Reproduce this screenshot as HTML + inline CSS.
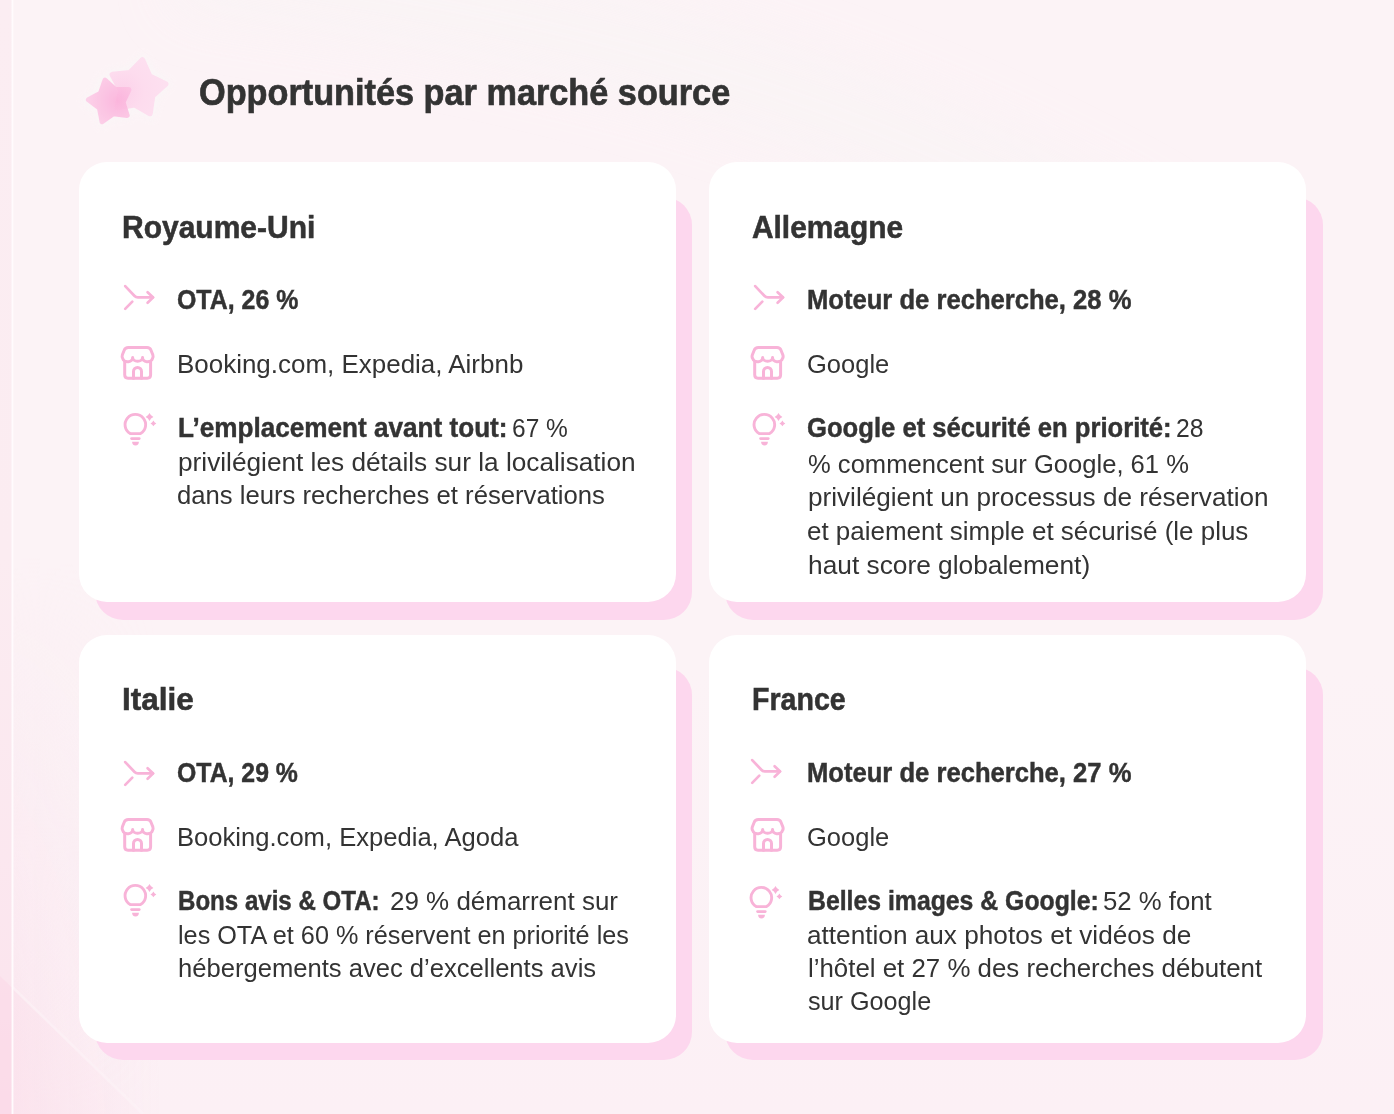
<!DOCTYPE html>
<html lang="fr">
<head>
<meta charset="utf-8">
<title>Opportunités par marché source</title>
<style>
html,body{margin:0;padding:0;}
body{width:1394px;height:1114px;position:relative;overflow:hidden;background:#fcf2f6;font-family:"Liberation Sans",sans-serif;color:#333333;}
.bg{position:absolute;left:0;top:0;width:1394px;height:1114px;}
.market{position:absolute;width:0;height:0;}
.market ul,.market li,.market p{margin:0;padding:0;list-style:none;}
.shadow{position:absolute;background:#fdd7ee;border-radius:28px;}
.card{position:absolute;left:0;top:0;background:#ffffff;border-radius:28px;}
.t{position:absolute;white-space:nowrap;transform-origin:0 50%;margin:0;padding:0;display:block;}
b.t{font-weight:bold;-webkit-text-stroke:0.45px #333333;}
h1.t{font-weight:bold;-webkit-text-stroke:0.7px #333333;}
h2.t{font-weight:bold;-webkit-text-stroke:0.55px #333333;}
svg.ic{position:absolute;overflow:visible;}
</style>
</head>
<body>
<svg class="bg" width="1394" height="1114" viewBox="0 0 1394 1114">
  <defs>
    <linearGradient id="gv" x1="0" y1="0" x2="0" y2="1">
      <stop offset="0" stop-color="#fcf3f6"/>
      <stop offset="0.6" stop-color="#fcf3f6"/>
      <stop offset="1" stop-color="#fcf0f5"/>
    </linearGradient>
    <linearGradient id="gs" x1="0" y1="0" x2="0" y2="1">
      <stop offset="0" stop-color="#fbedf2"/>
      <stop offset="0.5" stop-color="#fbecf1"/>
      <stop offset="0.88" stop-color="#fbe5ee"/>
      <stop offset="1" stop-color="#fbdeea"/>
    </linearGradient>
    <linearGradient id="gh" x1="0" y1="0" x2="1" y2="0">
      <stop offset="0" stop-color="#fadfeb" stop-opacity="0.6"/>
      <stop offset="0.7" stop-color="#fbe6ef" stop-opacity="0.2"/>
      <stop offset="1" stop-color="#fcecf2" stop-opacity="0"/>
    </linearGradient>
    <linearGradient id="gm" x1="0" y1="0" x2="0" y2="1">
      <stop offset="0.5" stop-color="#000"/>
      <stop offset="1" stop-color="#fff"/>
    </linearGradient>
    <mask id="mk" maskUnits="userSpaceOnUse" x="0" y="0" width="1394" height="1114"><rect x="0" y="0" width="1394" height="1114" fill="url(#gm)"/></mask>
    <linearGradient id="gd" x1="0" y1="0" x2="1" y2="0">
      <stop offset="0" stop-color="#fbe0eb" stop-opacity="0.6"/>
      <stop offset="1" stop-color="#fce9f1" stop-opacity="0.3"/>
    </linearGradient>
    <filter id="bl" x="-10%" y="-10%" width="120%" height="120%"><feGaussianBlur stdDeviation="28"/></filter>
  </defs>
  <rect x="0" y="0" width="1394" height="1114" fill="url(#gv)"/>
  <!-- very soft lighter arc across the top -->
  <path d="M180 -40 C 500 10, 800 60, 1150 260" fill="none" stroke="#f9f4f5" stroke-width="90" opacity="0.8" filter="url(#bl)"/>
  <!-- pink tint down the left side, stronger toward the bottom -->
  <rect x="13.4" y="0" width="150" height="1114" fill="url(#gh)" mask="url(#mk)"/>
  <!-- bottom-left diagonal facet -->
  <polygon points="0,976 142,1114 0,1114" fill="url(#gd)"/>
  <line x1="0" y1="975" x2="143" y2="1114" stroke="#fdf3f7" stroke-width="2.5" opacity="0.6"/>
  <!-- left strip -->
  <rect x="0" y="0" width="11.6" height="1114" fill="url(#gs)"/>
  <polygon points="0,976 11.6,987.3 11.6,1114 0,1114" fill="#fbd9e7" opacity="0.6"/>
  <rect x="11.6" y="0" width="1.8" height="1114" fill="#fffbfd"/>
</svg>

<header>
<svg class="ic" style="left:60px;top:30px" width="140" height="120" viewBox="60 30 140 120">
  <defs>
    <filter id="halo" x="-30%" y="-30%" width="160%" height="160%"><feGaussianBlur stdDeviation="3"/></filter>
    <filter id="soft" x="-10%" y="-10%" width="120%" height="120%"><feGaussianBlur stdDeviation="0.55"/></filter>
    <radialGradient id="sg" cx="0.72" cy="0.5" r="0.75"><stop offset="0" stop-color="#fbb2db"/><stop offset="0.6" stop-color="#fcc2e3"/><stop offset="1" stop-color="#fdcde8"/></radialGradient>
    <radialGradient id="bg2" cx="0.2" cy="0.6" r="0.8"><stop offset="0" stop-color="#fcd2ea"/><stop offset="0.5" stop-color="#fddcee"/><stop offset="1" stop-color="#fde0f0"/></radialGradient>
  </defs>
  <g filter="url(#halo)" opacity="0.85">
    <polygon points="143.8,52.5 154.8,71.3 173.1,83.0 158.7,99.3 153.3,120.4 133.3,111.6 111.6,113.0 113.7,91.3 105.7,71.1 127.0,66.4" fill="#faf6f7"/>
    <polygon points="101.0,73.8 115.7,83.5 133.3,84.9 128.5,101.8 132.7,119.0 115.1,119.7 100.1,128.9 93.9,112.4 80.5,101.0 94.3,90.1" fill="#faf6f7"/>
  </g>
  <g filter="url(#soft)">
    <polygon points="142.4,59.9 149.7,76.2 165.7,84.0 152.5,96.0 150.0,113.6 134.5,104.7 117.0,107.8 120.7,90.4 112.3,74.6 130.0,72.7" fill="url(#bg2)" stroke="url(#bg2)" stroke-width="5.5" stroke-linejoin="round"/>
    <polygon points="105.0,80.0 115.1,89.4 129.0,89.6 123.1,102.2 127.2,115.4 113.4,113.7 102.1,121.7 99.4,108.1 88.4,99.8 100.5,93.1" fill="url(#sg)" stroke="url(#sg)" stroke-width="5" stroke-linejoin="round" opacity="0.9"/>
  </g>
</svg>
<h1 class="t h1" style="left:198.89px;top:74.00px;font-size:37.5px;line-height:37.5px;transform:scaleX(0.9137)">Opportunités par marché source</h1>
</header>
<main>
<article class="market" style="left:78.7px;top:162.4px">
  <div class="shadow" style="left:15.9px;top:34.6px;width:597.7px;height:423.0px"></div>
  <div class="card" style="width:597.6px;height:439.6px"></div>
  <h2 class="t h2" style="left:43.73px;top:48.60px;font-size:32px;line-height:32px;transform:scaleX(0.9374)">Royaume-Uni</h2>
  <ul>
    <li><svg class="ic" style="left:36.3px;top:115.6px" width="46" height="40" viewBox="115 278 46 40" fill="none" stroke="#f8b3d8" stroke-width="2.7" stroke-linecap="round" stroke-linejoin="round"><path d="M125.2 286.1 L134.6 296 Q135.9 297.4 137.8 297.4 L152.9 297.4"/><path d="M147.6 292.2 L153.2 297.4 L147.6 302.8"/><path d="M125.2 308.9 L132.3 301.6"/></svg>
      <p>
        <b class="t" style="left:98.18px;top:124.60px;font-size:27px;line-height:27px;transform:scaleX(0.9224)">OTA, 26 %</b>
      </p>
    </li>
    <li><svg class="ic" style="left:36.3px;top:177.6px" width="46" height="46" viewBox="115 340 46 46" fill="none" stroke="#f8b3d8" stroke-width="3" stroke-linecap="round" stroke-linejoin="round"><path d="M128.4 347.6 H147 Q150 347.6 151 350.2 L152.8 354.8 Q153.6 357.2 152.5 358.5 A5 3.8 0 0 1 142.6 357.4 A5 3.8 0 0 1 132.6 357.4 A5 3.8 0 0 1 122.7 358.5 Q121.6 357.2 122.4 354.8 L124.2 350.2 Q125.2 347.6 128.4 347.6 Z"/><path d="M124.7 361.4 V374.8 Q124.7 378.2 128 378.2 H147.3 Q150.6 378.2 150.6 374.8 V361.4"/><path d="M133.5 378.2 V371.4 A4 4 0 0 1 141.5 371.4 V378.2"/></svg>
      <p>
        <span class="t" style="left:98.20px;top:188.60px;font-size:26px;line-height:26px;transform:scaleX(0.9984)">Booking.com, Expedia, Airbnb</span>
      </p>
    </li>
    <li><svg class="ic" style="left:36.3px;top:243.6px" width="46" height="46" viewBox="115 406 46 46" fill="none" stroke="#f8b3d8" stroke-width="2.9" stroke-linecap="round" stroke-linejoin="round"><path d="M130.2 433.6 A10.3 10.3 0 1 1 140.5 433.6 Z"/><path d="M131.5 438.6 H139.3" stroke-width="2.6"/><g stroke="none" fill="#f8b3d8"><path d="M132.1 441.8 H138.9 A3.4 3.7 0 0 1 132.1 441.8 Z"/><path d="M149.5,413.1 Q150.67,415.83 153.4,417 Q150.67,418.17 149.5,420.9 Q148.33,418.17 145.6,417 Q148.33,415.83 149.5,413.1 Z"/><path d="M153.4,420.5 Q154.27,422.53 156.3,423.4 Q154.27,424.27 153.4,426.29999999999995 Q152.53,424.27 150.5,423.4 Q152.53,422.53 153.4,420.5 Z"/></g></svg>
      <p>
        <b class="t" style="left:99.03px;top:252.60px;font-size:27px;line-height:27px;transform:scaleX(0.9675)">L’emplacement avant tout:</b>
        <span class="t" style="left:433.56px;top:252.60px;font-size:26px;line-height:26px;transform:scaleX(0.9425)">67 %</span>
        <span class="t" style="left:99.19px;top:286.60px;font-size:26px;line-height:26px;transform:scaleX(1.0084)">privilégient les détails sur la localisation</span>
        <span class="t" style="left:98.31px;top:319.60px;font-size:26px;line-height:26px;transform:scaleX(0.9869)">dans leurs recherches et réservations</span>
      </p>
    </li>
  </ul>
</article>
<article class="market" style="left:709.2px;top:162.4px">
  <div class="shadow" style="left:16.0px;top:34.6px;width:597.6px;height:423.0px"></div>
  <div class="card" style="width:597.2px;height:439.6px"></div>
  <h2 class="t h2" style="left:43.10px;top:48.60px;font-size:32px;line-height:32px;transform:scaleX(0.9334)">Allemagne</h2>
  <ul>
    <li><svg class="ic" style="left:35.6px;top:115.6px" width="46" height="40" viewBox="115 278 46 40" fill="none" stroke="#f8b3d8" stroke-width="2.7" stroke-linecap="round" stroke-linejoin="round"><path d="M125.2 286.1 L134.6 296 Q135.9 297.4 137.8 297.4 L152.9 297.4"/><path d="M147.6 292.2 L153.2 297.4 L147.6 302.8"/><path d="M125.2 308.9 L132.3 301.6"/></svg>
      <p>
        <b class="t" style="left:98.15px;top:124.60px;font-size:27px;line-height:27px;transform:scaleX(0.9483)">Moteur de recherche, 28 %</b>
      </p>
    </li>
    <li><svg class="ic" style="left:35.9px;top:177.6px" width="46" height="46" viewBox="115 340 46 46" fill="none" stroke="#f8b3d8" stroke-width="3" stroke-linecap="round" stroke-linejoin="round"><path d="M128.4 347.6 H147 Q150 347.6 151 350.2 L152.8 354.8 Q153.6 357.2 152.5 358.5 A5 3.8 0 0 1 142.6 357.4 A5 3.8 0 0 1 132.6 357.4 A5 3.8 0 0 1 122.7 358.5 Q121.6 357.2 122.4 354.8 L124.2 350.2 Q125.2 347.6 128.4 347.6 Z"/><path d="M124.7 361.4 V374.8 Q124.7 378.2 128 378.2 H147.3 Q150.6 378.2 150.6 374.8 V361.4"/><path d="M133.5 378.2 V371.4 A4 4 0 0 1 141.5 371.4 V378.2"/></svg>
      <p>
        <span class="t" style="left:98.12px;top:188.60px;font-size:26px;line-height:26px;transform:scaleX(0.9808)">Google</span>
      </p>
    </li>
    <li><svg class="ic" style="left:34.8px;top:243.8px" width="46" height="46" viewBox="115 406 46 46" fill="none" stroke="#f8b3d8" stroke-width="2.9" stroke-linecap="round" stroke-linejoin="round"><path d="M130.2 433.6 A10.3 10.3 0 1 1 140.5 433.6 Z"/><path d="M131.5 438.6 H139.3" stroke-width="2.6"/><g stroke="none" fill="#f8b3d8"><path d="M132.1 441.8 H138.9 A3.4 3.7 0 0 1 132.1 441.8 Z"/><path d="M149.5,413.1 Q150.67,415.83 153.4,417 Q150.67,418.17 149.5,420.9 Q148.33,418.17 145.6,417 Q148.33,415.83 149.5,413.1 Z"/><path d="M153.4,420.5 Q154.27,422.53 156.3,423.4 Q154.27,424.27 153.4,426.29999999999995 Q152.53,424.27 150.5,423.4 Q152.53,422.53 153.4,420.5 Z"/></g></svg>
      <p>
        <b class="t" style="left:97.85px;top:252.60px;font-size:27px;line-height:27px;transform:scaleX(0.9494)">Google et sécurité en priorité:</b>
        <span class="t" style="left:466.75px;top:252.60px;font-size:26px;line-height:26px;transform:scaleX(0.9505)">28</span>
        <span class="t" style="left:98.60px;top:288.60px;font-size:26px;line-height:26px;transform:scaleX(0.9835)">% commencent sur Google, 61 %</span>
        <span class="t" style="left:98.69px;top:321.60px;font-size:26px;line-height:26px;transform:scaleX(1.0053)">privilégient un processus de réservation</span>
        <span class="t" style="left:97.50px;top:355.60px;font-size:26px;line-height:26px;transform:scaleX(0.9980)">et paiement simple et sécurisé (le plus</span>
        <span class="t" style="left:98.79px;top:389.60px;font-size:26px;line-height:26px;transform:scaleX(1.0116)">haut score globalement)</span>
      </p>
    </li>
  </ul>
</article>
<article class="market" style="left:78.7px;top:634.8px">
  <div class="shadow" style="left:15.9px;top:32.7px;width:597.7px;height:392.5px"></div>
  <div class="card" style="width:597.6px;height:408.0px"></div>
  <h2 class="t h2" style="left:43.63px;top:48.20px;font-size:32px;line-height:32px;transform:scaleX(0.9840)">Italie</h2>
  <ul>
    <li><svg class="ic" style="left:36.3px;top:119.1px" width="46" height="40" viewBox="115 278 46 40" fill="none" stroke="#f8b3d8" stroke-width="2.7" stroke-linecap="round" stroke-linejoin="round"><path d="M125.2 286.1 L134.6 296 Q135.9 297.4 137.8 297.4 L152.9 297.4"/><path d="M147.6 292.2 L153.2 297.4 L147.6 302.8"/><path d="M125.2 308.9 L132.3 301.6"/></svg>
      <p>
        <b class="t" style="left:98.18px;top:125.20px;font-size:27px;line-height:27px;transform:scaleX(0.9194)">OTA, 29 %</b>
      </p>
    </li>
    <li><svg class="ic" style="left:36.4px;top:177.5px" width="46" height="46" viewBox="115 340 46 46" fill="none" stroke="#f8b3d8" stroke-width="3" stroke-linecap="round" stroke-linejoin="round"><path d="M128.4 347.6 H147 Q150 347.6 151 350.2 L152.8 354.8 Q153.6 357.2 152.5 358.5 A5 3.8 0 0 1 142.6 357.4 A5 3.8 0 0 1 132.6 357.4 A5 3.8 0 0 1 122.7 358.5 Q121.6 357.2 122.4 354.8 L124.2 350.2 Q125.2 347.6 128.4 347.6 Z"/><path d="M124.7 361.4 V374.8 Q124.7 378.2 128 378.2 H147.3 Q150.6 378.2 150.6 374.8 V361.4"/><path d="M133.5 378.2 V371.4 A4 4 0 0 1 141.5 371.4 V378.2"/></svg>
      <p>
        <span class="t" style="left:98.23px;top:189.20px;font-size:26px;line-height:26px;transform:scaleX(0.9842)">Booking.com, Expedia, Agoda</span>
      </p>
    </li>
    <li><svg class="ic" style="left:36.4px;top:242.7px" width="46" height="46" viewBox="115 406 46 46" fill="none" stroke="#f8b3d8" stroke-width="2.9" stroke-linecap="round" stroke-linejoin="round"><path d="M130.2 433.6 A10.3 10.3 0 1 1 140.5 433.6 Z"/><path d="M131.5 438.6 H139.3" stroke-width="2.6"/><g stroke="none" fill="#f8b3d8"><path d="M132.1 441.8 H138.9 A3.4 3.7 0 0 1 132.1 441.8 Z"/><path d="M149.5,413.1 Q150.67,415.83 153.4,417 Q150.67,418.17 149.5,420.9 Q148.33,418.17 145.6,417 Q148.33,415.83 149.5,413.1 Z"/><path d="M153.4,420.5 Q154.27,422.53 156.3,423.4 Q154.27,424.27 153.4,426.29999999999995 Q152.53,424.27 150.5,423.4 Q152.53,422.53 153.4,420.5 Z"/></g></svg>
      <p>
        <b class="t" style="left:99.11px;top:253.20px;font-size:27px;line-height:27px;transform:scaleX(0.8918)">Bons avis &amp; OTA:</b>
        <span class="t" style="left:311.00px;top:253.20px;font-size:26px;line-height:26px;transform:scaleX(0.9984)">29 % démarrent sur</span>
        <span class="t" style="left:99.03px;top:287.20px;font-size:26px;line-height:26px;transform:scaleX(0.9700)">les OTA et 60 % réservent en priorité les</span>
        <span class="t" style="left:99.22px;top:320.20px;font-size:26px;line-height:26px;transform:scaleX(0.9840)">hébergements avec d’excellents avis</span>
      </p>
    </li>
  </ul>
</article>
<article class="market" style="left:709.2px;top:634.8px">
  <div class="shadow" style="left:16.0px;top:32.7px;width:597.6px;height:392.5px"></div>
  <div class="card" style="width:597.2px;height:408.0px"></div>
  <h2 class="t h2" style="left:43.01px;top:48.20px;font-size:32px;line-height:32px;transform:scaleX(0.8929)">France</h2>
  <ul>
    <li><svg class="ic" style="left:32.8px;top:117.2px" width="46" height="40" viewBox="115 278 46 40" fill="none" stroke="#f8b3d8" stroke-width="2.7" stroke-linecap="round" stroke-linejoin="round"><path d="M125.2 286.1 L134.6 296 Q135.9 297.4 137.8 297.4 L152.9 297.4"/><path d="M147.6 292.2 L153.2 297.4 L147.6 302.8"/><path d="M125.2 308.9 L132.3 301.6"/></svg>
      <p>
        <b class="t" style="left:98.15px;top:125.20px;font-size:27px;line-height:27px;transform:scaleX(0.9483)">Moteur de recherche, 27 %</b>
      </p>
    </li>
    <li><svg class="ic" style="left:35.9px;top:177.5px" width="46" height="46" viewBox="115 340 46 46" fill="none" stroke="#f8b3d8" stroke-width="3" stroke-linecap="round" stroke-linejoin="round"><path d="M128.4 347.6 H147 Q150 347.6 151 350.2 L152.8 354.8 Q153.6 357.2 152.5 358.5 A5 3.8 0 0 1 142.6 357.4 A5 3.8 0 0 1 132.6 357.4 A5 3.8 0 0 1 122.7 358.5 Q121.6 357.2 122.4 354.8 L124.2 350.2 Q125.2 347.6 128.4 347.6 Z"/><path d="M124.7 361.4 V374.8 Q124.7 378.2 128 378.2 H147.3 Q150.6 378.2 150.6 374.8 V361.4"/><path d="M133.5 378.2 V371.4 A4 4 0 0 1 141.5 371.4 V378.2"/></svg>
      <p>
        <span class="t" style="left:98.12px;top:189.20px;font-size:26px;line-height:26px;transform:scaleX(0.9808)">Google</span>
      </p>
    </li>
    <li><svg class="ic" style="left:32.0px;top:244.5px" width="46" height="46" viewBox="115 406 46 46" fill="none" stroke="#f8b3d8" stroke-width="2.9" stroke-linecap="round" stroke-linejoin="round"><path d="M130.2 433.6 A10.3 10.3 0 1 1 140.5 433.6 Z"/><path d="M131.5 438.6 H139.3" stroke-width="2.6"/><g stroke="none" fill="#f8b3d8"><path d="M132.1 441.8 H138.9 A3.4 3.7 0 0 1 132.1 441.8 Z"/><path d="M149.5,413.1 Q150.67,415.83 153.4,417 Q150.67,418.17 149.5,420.9 Q148.33,418.17 145.6,417 Q148.33,415.83 149.5,413.1 Z"/><path d="M153.4,420.5 Q154.27,422.53 156.3,423.4 Q154.27,424.27 153.4,426.29999999999995 Q152.53,424.27 150.5,423.4 Q152.53,422.53 153.4,420.5 Z"/></g></svg>
      <p>
        <b class="t" style="left:98.78px;top:253.20px;font-size:27px;line-height:27px;transform:scaleX(0.9184)">Belles images &amp; Google:</b>
        <span class="t" style="left:394.31px;top:253.20px;font-size:26px;line-height:26px;transform:scaleX(0.9897)">52 % font</span>
        <span class="t" style="left:98.29px;top:287.20px;font-size:26px;line-height:26px;transform:scaleX(1.0072)">attention aux photos et vidéos de</span>
        <span class="t" style="left:98.71px;top:320.20px;font-size:26px;line-height:26px;transform:scaleX(0.9943)">l’hôtel et 27 % des recherches débutent</span>
        <span class="t" style="left:98.70px;top:353.20px;font-size:26px;line-height:26px;transform:scaleX(0.9683)">sur Google</span>
      </p>
    </li>
  </ul>
</article>
</main>
</body>
</html>
